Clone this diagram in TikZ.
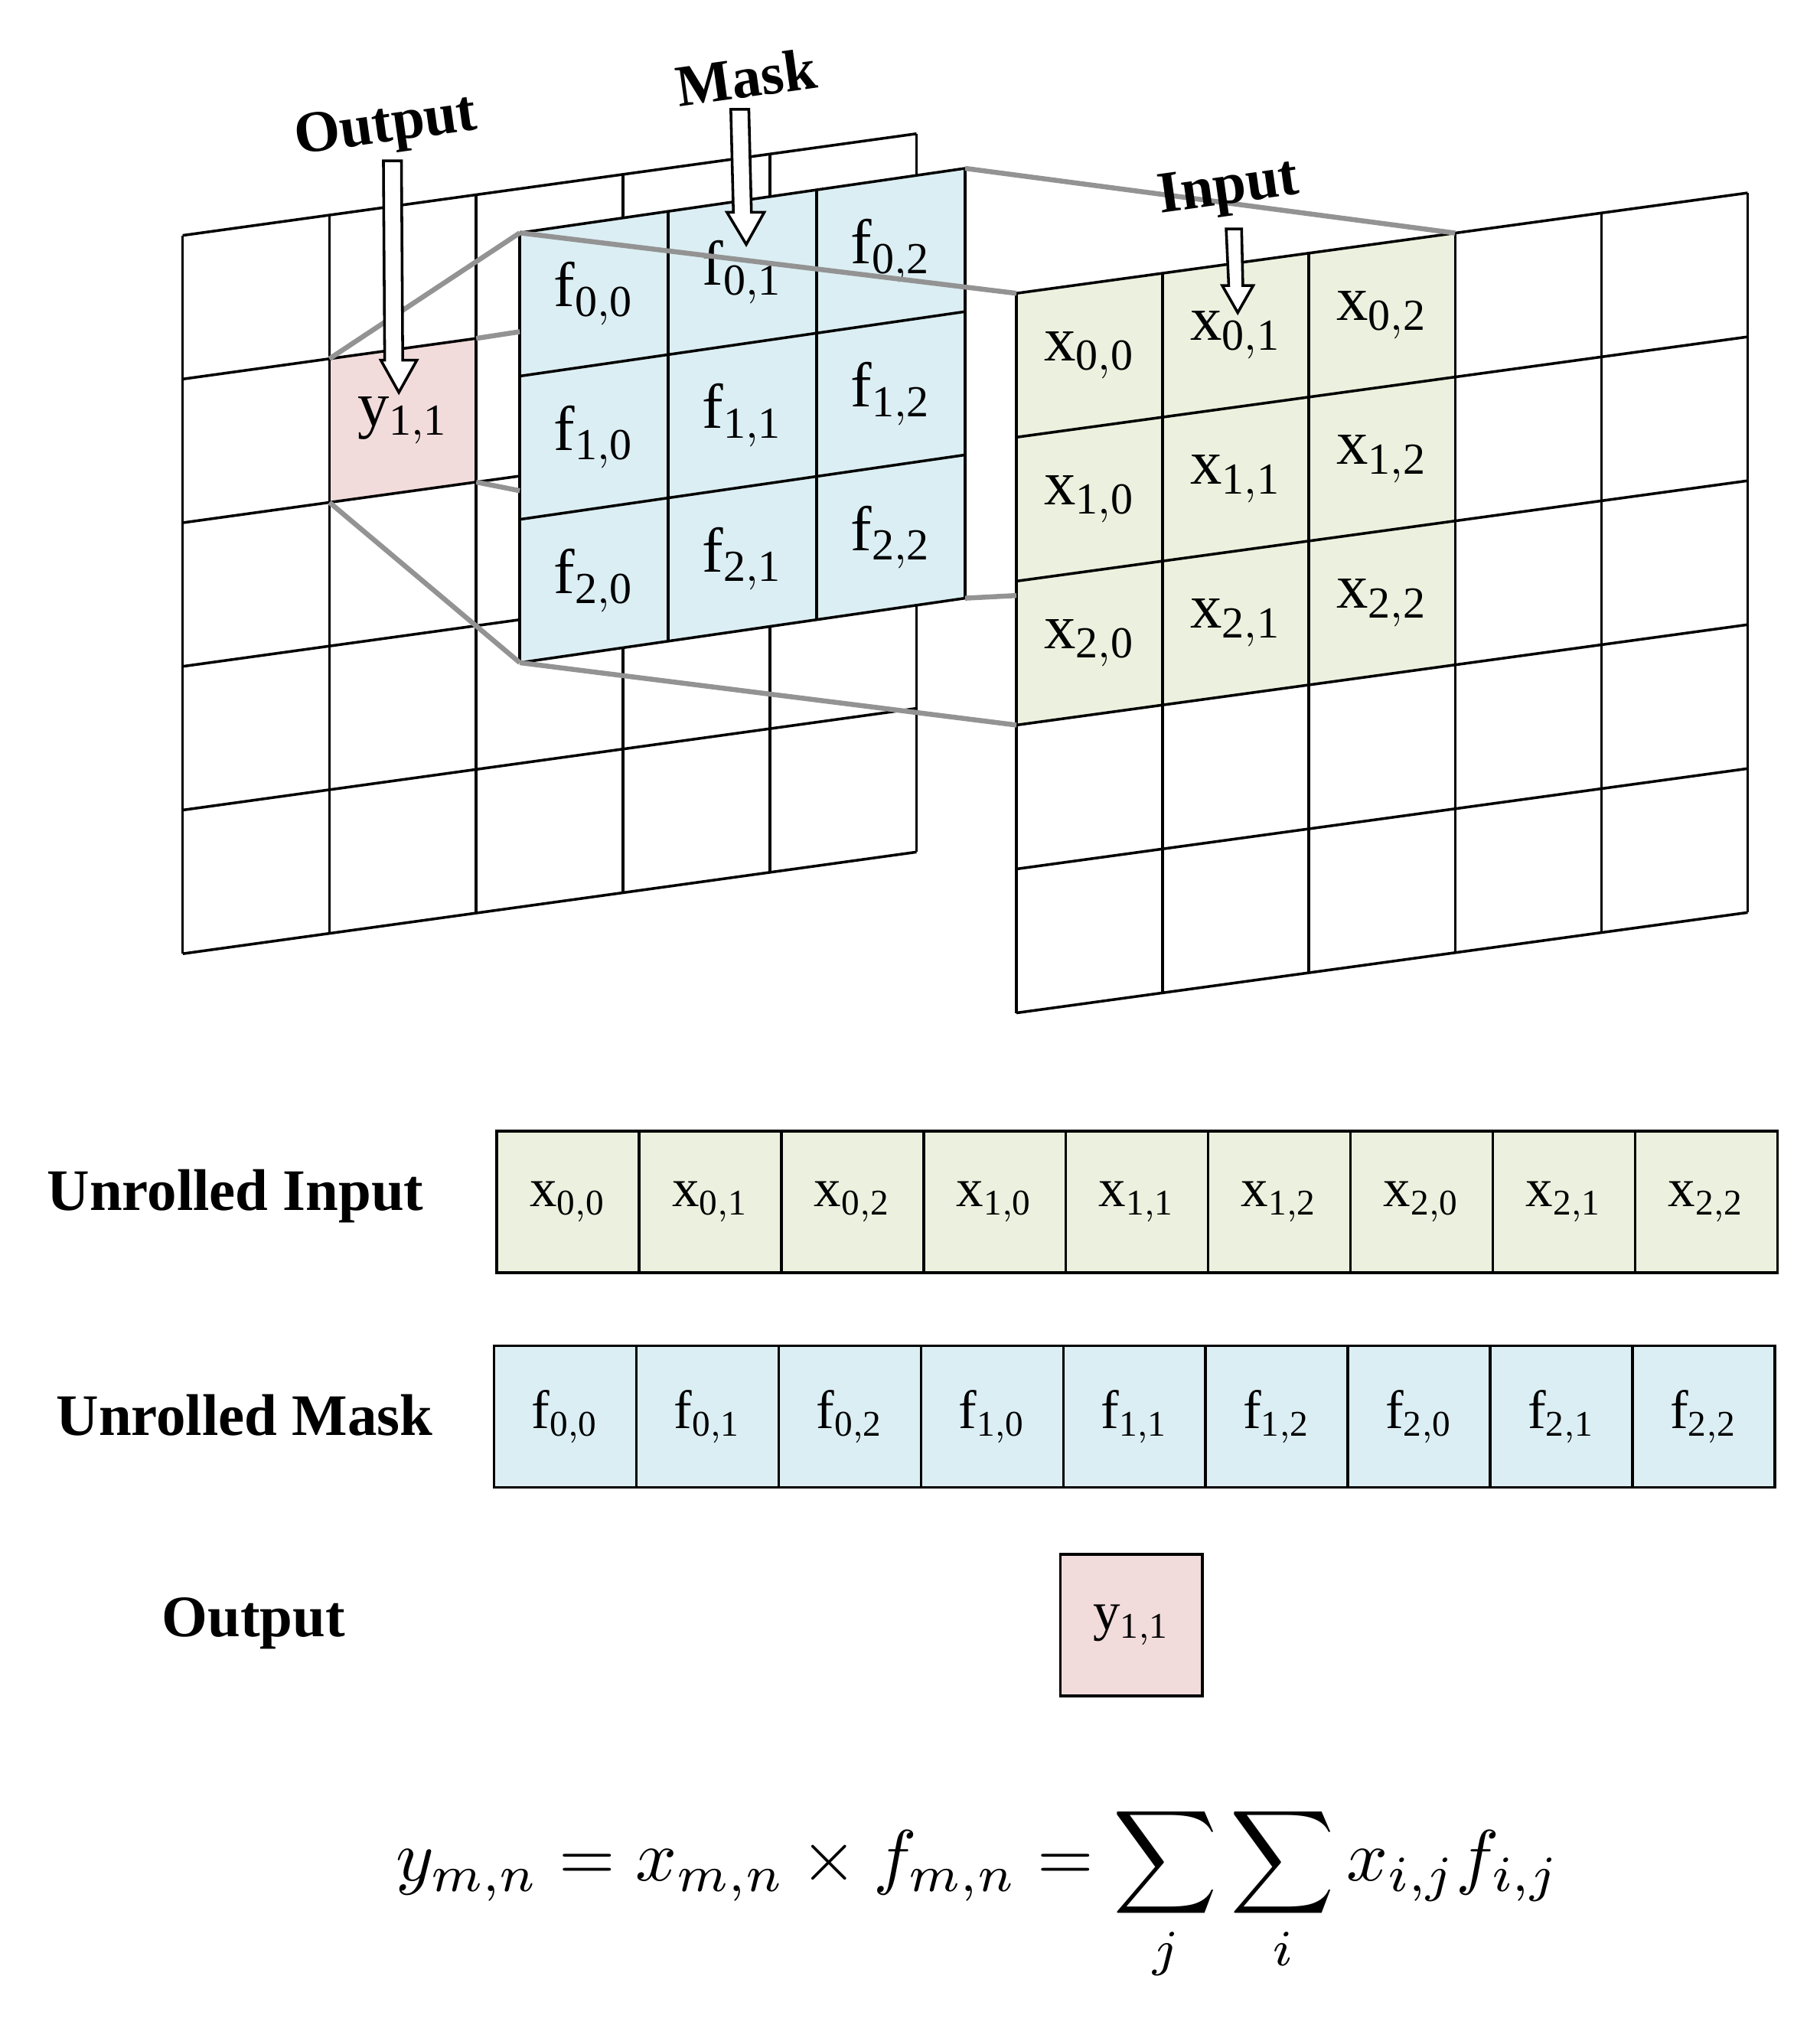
\documentclass[tikz,border=0pt]{standalone}
\usepackage{fontspec}
\setmainfont{Liberation Serif}
\usetikzlibrary{calc}
\begin{document}
\begin{tikzpicture}[x=0.01cm,y=-0.01cm,
  grid/.style={line width=0.6pt},
  con/.style={draw=gray!85,line width=1.1pt},
  lab/.style={font=\fontsize{14}{14}\selectfont},
  ulab/.style={font=\fontsize{12}{12}\selectfont},
  title/.style={font=\bfseries\fontsize{13}{13}\selectfont},
  cell/.style={draw,line width=0.6pt,minimum width=1.105cm,minimum height=1.1cm,inner sep=0pt,anchor=north west,ulab},
  harrow/.style={draw,fill=white,line width=0.6pt}]
\definecolor{fblue}{RGB}{219,238,243}
\definecolor{fgreen}{RGB}{235,241,222}
\definecolor{fpink}{RGB}{242,220,219}
\newcommand\skgrid[2]{\foreach \k in {0,...,#1}{\draw[grid] (\k,0) -- (\k,#2);}\foreach \k in {0,...,#2}{\draw[grid] (0,\k) -- (#1,\k);}}
\useasboundingbox (0,0) rectangle (1414,1574);
% output grid
\begin{scope}[shift={(142,183)}]\begin{scope}[x={(1.14cm,0.158cm)},y={(0cm,-1.116cm)}]
  \fill[fpink] (1,1) -- (2,1) -- (2,2) -- (1,2) -- cycle;
  \skgrid{5}{5}
  \node[lab] (y11) at (1.5,1.5) {y$_{\mathrm{1,1}}$};
  \coordinate (ya) at (1,1);\coordinate (yb) at (2,1);\coordinate (yc) at (2,2);\coordinate (yd) at (1,2);
\end{scope}\end{scope}
% input grid
\begin{scope}[shift={(790,228)}]\begin{scope}[x={(1.136cm,0.156cm)},y={(0cm,-1.118cm)}]
  \fill[fgreen] (0,0) -- (3,0) -- (3,3) -- (0,3) -- cycle;
  \skgrid{5}{5}
  \foreach \i in {0,1,2}{\foreach \j in {0,1,2}{
    \node[lab] (x\i\j) at (\j+.5,\i+.5) {x$_{\mathrm{\i,\j}}$};}}
  \coordinate (ia) at (0,0);\coordinate (ib) at (3,0);\coordinate (ic) at (3,3);\coordinate (id) at (0,3);
\end{scope}\end{scope}
% mask grid
\begin{scope}[shift={(404,181)}]\begin{scope}[x={(1.153cm,0.167cm)},y={(0cm,-1.113cm)}]
  \fill[fblue] (0,0) -- (3,0) -- (3,3) -- (0,3) -- cycle;
  \skgrid{3}{3}
  \foreach \i in {0,1,2}{\foreach \j in {0,1,2}{
    \node[lab] (f\i\j) at (\j+.5,\i+.5) {f$_{\mathrm{\i,\j}}$};}}
  \coordinate (ma) at (0,0);\coordinate (mb) at (3,0);\coordinate (mc) at (3,3);\coordinate (md) at (0,3);
\end{scope}\end{scope}
% connectors
\draw[con] (ya) -- (ma);
\draw[con] (yb) -- ($(ma)!0.23!(md)$);
\draw[con] (yc) -- ($(ma)!0.6!(md)$);
\draw[con] (yd) -- (md);
\draw[con] (ma) -- (ia);
\draw[con] (mb) -- (ib);
\draw[con] (md) -- (id);
\draw[con] (mc) -- ($(ia)!0.7!(id)$);
% arrows
\draw[harrow] (298,125) -- (312,125) -- (313,280) -- (324,280) -- (310,305) -- (296,280) -- (299,280) -- cycle;
\draw[harrow] (568,85) -- (582,85) -- (584,165) -- (594,165) -- (580,190) -- (565,165) -- (570,165) -- cycle;
\draw[harrow] (953,178) -- (965,178) -- (966,222) -- (974,222) -- (962,243) -- (950,222) -- (955,222) -- cycle;
\node[title,rotate=8] (tout) at (300,100) {Output};
\node[title,rotate=8] (tmask) at (580,60) {Mask};
\node[title,rotate=8] (tin) at (955,148) {Input};
% unrolled
\foreach \a/\b [count=\k from 0] in {0/0,0/1,0/2,1/0,1/1,1/2,2/0,2/1,2/2}{
  \node[cell,fill=fgreen] (ux\k) at (385+110.6*\k,878) {x$_{\mathrm{\a,\b}}$};
  \node[cell,fill=fblue] (uf\k) at (383+110.6*\k,1045) {f$_{\mathrm{\a,\b}}$};
}
\node[cell,fill=fpink] (uy) at (823,1207) {y$_{\mathrm{1,1}}$};
\node[title] (lui) at (183,930) {Unrolled Input};
\node[title] (lum) at (190,1100) {Unrolled Mask};
\node[title] (luo) at (197,1262) {Output};
\node (eq) at (760,1472) {\scalebox{1.6}{$y_{m,n}=x_{m,n}\times f_{m,n}=\displaystyle\sum_j\sum_i x_{i,j}f_{i,j}$}};
\end{tikzpicture}
\end{document}
